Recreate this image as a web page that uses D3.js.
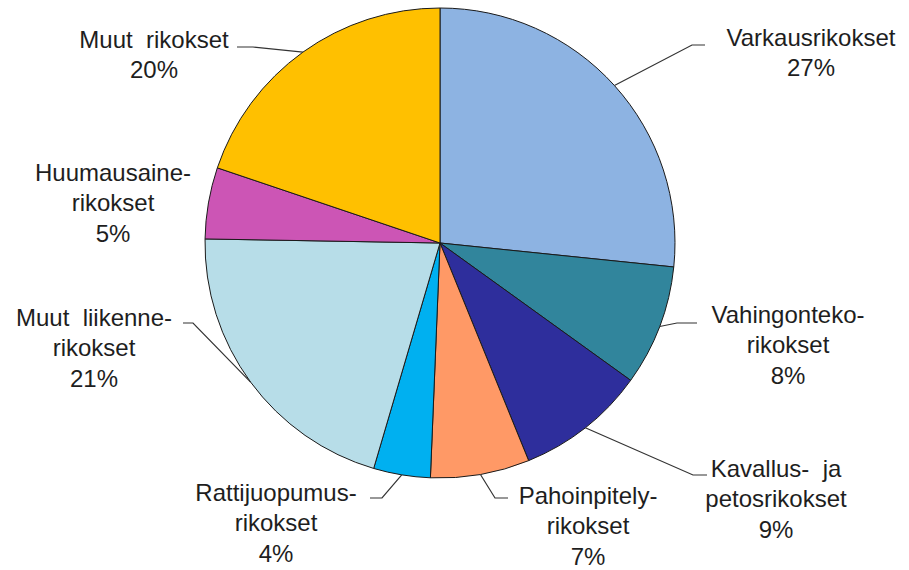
<!DOCTYPE html>
<html>
<head>
<meta charset="utf-8">
<script src="https://cdn.jsdelivr.net/npm/d3@7"></script>
<style>
  body { margin: 0; background: #fff; }
  text { font-family: "Liberation Sans", Arial, sans-serif; font-size: 24px; fill: #1e1e1e; }
</style>
</head>
<body>
<div id="piechart"></div>
<script>
var width = 909, height = 570;

// data, clockwise from 12 o'clock
var categories = ["Varkausrikokset", "Vahingontekorikokset", "Kavallus- ja petosrikokset",
  "Pahoinpitelyrikokset", "Rattijuopumusrikokset", "Muut liikennerikokset",
  "Huumausainerikokset", "Muut rikokset"];
var shares = [26.6, 8.3, 8.9, 6.8, 3.9, 20.7, 4.9, 19.8];
var pctLabels = ["27%", "8%", "9%", "7%", "4%", "21%", "5%", "20%"];
var nameLines = [["Varkausrikokset"], ["Vahingonteko-", "rikokset"], ["Kavallus-  ja", "petosrikokset"],
  ["Pahoinpitely-", "rikokset"], ["Rattijuopumus-", "rikokset"], ["Muut  liikenne-", "rikokset"],
  ["Huumausaine-", "rikokset"], ["Muut  rikokset"]];
var colors = ["#8db3e2", "#31859c", "#2e2e9c", "#ff9966", "#00b0f0", "#b7dde8", "#cc55b5", "#ffc000"];

// label layout: text centre x, first line centre y, leader elbow and end (null = no leader)
var layout = [
  { x: 811, y: 37, elbow: [692, 45], end: [705, 45] },
  { x: 788, y: 314, elbow: [677, 323], end: [697, 323] },
  { x: 776, y: 468, elbow: [693, 475], end: [707, 475] },
  { x: 588, y: 495, elbow: [495, 498], end: [508, 498] },
  { x: 276, y: 492, elbow: [382, 498], end: [370, 498] },
  { x: 94, y: 317, elbow: [193, 323], end: [183, 323] },
  { x: 113, y: 172, elbow: null, end: null },
  { x: 154, y: 39, elbow: [253, 47], end: [237, 47] }
];

var cx = 440, cy = 243, radius = 235;
var lineH = 30.5;

var svg = d3.select("#piechart").append("svg")
    .attr("width", width)
    .attr("height", height);

var g = svg.append("g")
    .attr("transform", "translate(" + cx + "," + cy + ")");

var pie = d3.pie()
    .sort(null)
    .value(function(d) { return d; });

var path = d3.arc()
    .outerRadius(radius)
    .innerRadius(0);

var arcs = pie(shares);

g.selectAll(".arc")
    .data(arcs)
    .enter().append("path")
    .attr("class", "arc")
    .attr("d", path)
    .attr("fill", function(d, i) { return colors[i]; })
    .attr("stroke", "#1a1a1a")
    .attr("stroke-width", 1)
    .attr("stroke-linejoin", "round");

// leader lines from slice middle on the rim
arcs.forEach(function(d, i) {
  var L = layout[i];
  if (!L.elbow) return;
  var a = (d.startAngle + d.endAngle) / 2;
  var px = cx + radius * Math.sin(a), py = cy - radius * Math.cos(a);
  svg.append("polyline")
      .attr("points", [[px, py], L.elbow, L.end].map(function(p) { return p.join(","); }).join(" "))
      .attr("fill", "none")
      .attr("stroke", "#333")
      .attr("stroke-width", 1.2);
});

// labels
arcs.forEach(function(d, i) {
  var L = layout[i];
  var lines = nameLines[i].concat([pctLabels[i]]);
  var t = svg.append("text")
      .attr("text-anchor", "middle")
      .style("white-space", "pre");
  lines.forEach(function(s, k) {
    t.append("tspan")
        .attr("x", L.x)
        .attr("y", L.y + k * lineH + 8.6)
        .text(s);
  });
});
</script>
</body>
</html>
